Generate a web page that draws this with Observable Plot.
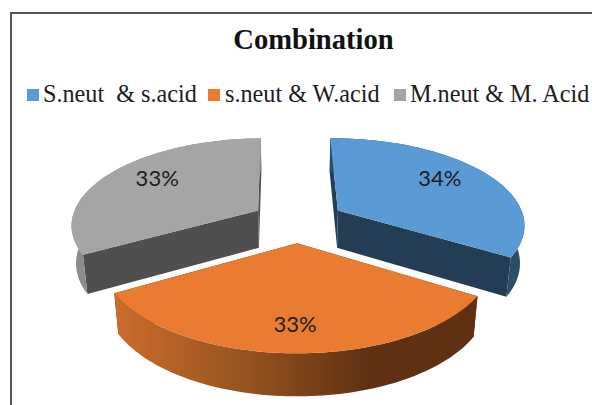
<!DOCTYPE html>
<html>
<head>
<meta charset="utf-8">
<script src="https://cdn.jsdelivr.net/npm/d3@7"></script>
<script src="https://cdn.jsdelivr.net/npm/@observablehq/plot@0.6"></script>
<style>
  html, body { margin: 0; padding: 0; background: #fff; }
  #chart { position: relative; width: 592px; height: 405px; overflow: hidden; }
  #frame { position: absolute; left: 10px; top: 12px; right: -4px; bottom: -4px;
           border: 2px solid #555; pointer-events: none; }
  h1 { margin: 0; padding-top: 22px; height: 36px; text-align: center;
       font: bold 28.6px/36px "Liberation Serif", serif; color: #111; padding-left: 35px; }
  #legend { position: relative; height: 62px; font: 24.2px/30px "Liberation Serif", serif; color: #1c1c1c; }
  #legend span.item { position: absolute; top: 21px; white-space: pre; }
  #legend i { position: absolute; width: 12px; height: 12px; }
  svg { display: block; }
</style>
</head>
<body>
<div id="chart">
  <div id="frame"></div>
  <h1>Combination</h1>
  <div id="legend"></div>
</div>
<script>
// Chart content
const title = "Combination";
const categories = ["S.neut  & s.acid", "s.neut & W.acid", "M.neut & M. Acid"];
const shares = [34, 33, 33];
const topColors = ["#5B9BD5", "#E97C30", "#A5A5A5"];
const rimColors = ["#2E4D68", "url(#orangeRim)", "#8C8C8C"];
const cutColors = ["#233E54", "#5F3112", "#4F4F4F"];
const legendSwatchX = [27, 208, 394];
const legendTextX = [43, 225, 410];

// Perspective view of a tilted, exploded pie
const view = {spreadX: 187, spreadZ: 86, drop: 38.5, perspective: 0.15, sink: 0.02, explode: 0.25};
const labelRadius = [0.68, 0.77, 0.68];
const labelLift = [5, 0, 5];
const firstSliceDegrees = -0.9;

function project(X, Z, Y) {
  const w = 1 - view.perspective * Z + view.sink * Y;
  return {x: view.spreadX * X / w, y: (view.spreadZ * Z + view.drop * Y) / w};
}

const radians = Math.PI / 180;
const start = firstSliceDegrees * radians;
const arcs = d3.pie().sort(null).startAngle(start).endAngle(start + 2 * Math.PI)(shares);

function slicePoint(arc, radius, angle, Y) {
  const mid = (arc.startAngle + arc.endAngle) / 2;
  const ox = view.explode * Math.sin(mid);
  const oz = -view.explode * Math.cos(mid);
  return project(ox + radius * Math.sin(angle), oz - radius * Math.cos(angle), Y);
}

function band(pointsA, pointsB) {
  return pointsA.map((p, i) => ({x1: p.x, y1: p.y, x2: pointsB[i].x, y2: pointsB[i].y}));
}

function face(rows, fill) {
  return Plot.area(rows, {x1: "x1", y1: "y1", x2: "x2", y2: "y2", fill, curve: "linear"});
}

function sliceMarks(arc, i) {
  const n = 80;
  const angles = d3.range(n + 1).map(k => arc.startAngle + (arc.endAngle - arc.startAngle) * k / n);
  const rimTop = angles.map(a => slicePoint(arc, 1, a, 0));
  const rimBottom = angles.map(a => slicePoint(arc, 1, a, 1));
  const apexTop = slicePoint(arc, 0, 0, 0);
  const apexBottom = slicePoint(arc, 0, 0, 1);
  const cut = k => band([apexTop, rimTop[k]], [apexBottom, rimBottom[k]]);
  return [
    face(cut(0), cutColors[i]),
    face(cut(n), cutColors[i]),
    face(band(rimTop, rimBottom), rimColors[i]),
    face(band(rimTop, rimTop.map(() => apexTop)), topColors[i])
  ];
}

// Shading across the front of the orange slice
function rimGradient() {
  const defs = d3.create("svg:defs");
  const gradient = defs.append("linearGradient").attr("id", "orangeRim");
  [[0, "#CC6C2C"], [0.35, "#97541F"], [0.7, "#5F3112"], [1, "#5F3112"]].forEach(([offset, color]) =>
    gradient.append("stop").attr("offset", offset).attr("stop-color", color));
  return defs.node();
}

const labels = arcs.map((arc, i) => {
  const mid = (arc.startAngle + arc.endAngle) / 2;
  const p = slicePoint(arc, labelRadius[i], mid, 0);
  return {x: p.x, y: p.y - labelLift[i], text: shares[i] + "%"};
});

const plot = Plot.plot({
  width: 592,
  height: 285,
  margin: 0,
  x: {domain: [-298, 294], range: [0, 592], axis: null},
  y: {domain: [-101, 184], range: [0, 285], axis: null},
  marks: [
    rimGradient,
    ...sliceMarks(arcs[2], 2),
    ...sliceMarks(arcs[0], 0),
    ...sliceMarks(arcs[1], 1),
    Plot.text(labels, {x: "x", y: "y", text: "text", fontSize: 22, fontFamily: "Lato", fill: "#1c1c1c"})
  ]
});

const legend = document.getElementById("legend");
categories.forEach((name, i) => {
  const swatch = document.createElement("i");
  swatch.style.left = legendSwatchX[i] + "px";
  swatch.style.top = "31px";
  swatch.style.background = topColors[i];
  const label = document.createElement("span");
  label.className = "item";
  label.style.left = legendTextX[i] + "px";
  label.textContent = name;
  legend.append(swatch, label);
});
document.querySelector("h1").textContent = title;
document.getElementById("chart").append(plot);
</script>
</body>
</html>
